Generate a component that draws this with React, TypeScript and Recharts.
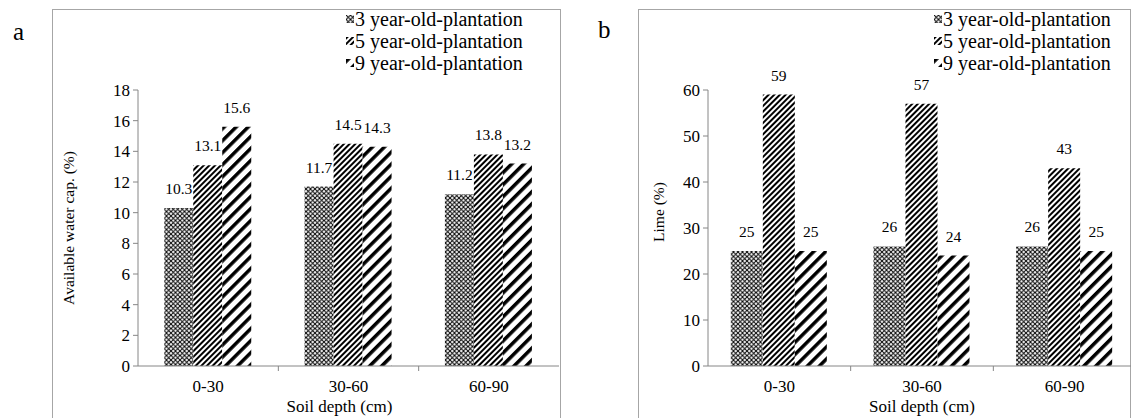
import { BarChart, Bar, XAxis, YAxis, LabelList, Legend } from "recharts";

const FONT = '"Liberation Serif", "Times New Roman", serif';
const AXIS = "#868686";
const BORDER = "#a6a6a6";

const depths = ["0-30", "30-60", "60-90"];
const seriesNames = ["3 year-old-plantation", "5 year-old-plantation", "9 year-old-plantation"];
const seriesKeys = ["y3", "y5", "y9"];

const waterCap3 = [10.3, 11.7, 11.2];
const waterCap5 = [13.1, 14.5, 13.8];
const waterCap9 = [15.6, 14.3, 13.2];
const waterTicks = [0, 2, 4, 6, 8, 10, 12, 14, 16, 18];

const lime3 = [25, 26, 26];
const lime5 = [59, 57, 43];
const lime9 = [25, 24, 25];
const limeTicks = [0, 10, 20, 30, 40, 50, 60];

const waterData = depths.map((depth, i) => ({
  depth,
  y3: waterCap3[i],
  y5: waterCap5[i],
  y9: waterCap9[i],
}));

const limeData = depths.map((depth, i) => ({
  depth,
  y3: lime3[i],
  y5: lime5[i],
  y9: lime9[i],
}));

// svg fill patterns that mimic the excel hatch fills
function patternDefs(prefix: string) {
  return (
    <defs>
      <pattern id={`${prefix}-y3`} width={4.5} height={4.5} patternUnits="userSpaceOnUse">
        <rect width={4.5} height={4.5} fill="#fff" />
        <path d="M0,0 L4.5,4.5 M4.5,0 L0,4.5" stroke="#000" strokeWidth={1} />
      </pattern>
      <pattern id={`${prefix}-y5`} width={4} height={4} patternUnits="userSpaceOnUse" patternTransform="rotate(45)">
        <rect width={4} height={4} fill="#fff" />
        <rect width={2} height={4} fill="#000" />
      </pattern>
      <pattern id={`${prefix}-y9`} width={8.5} height={8.5} patternUnits="userSpaceOnUse" patternTransform="rotate(45)">
        <rect width={8.5} height={8.5} fill="#fff" />
        <rect width={3.5} height={8.5} fill="#000" />
      </pattern>
    </defs>
  );
}

function legendContent(prefix: string) {
  return () => (
    <div style={{ fontFamily: FONT, fontSize: 20, lineHeight: "22px", color: "#000" }}>
      {seriesNames.map((name, i) => (
        <div key={name} style={{ display: "flex", alignItems: "center", whiteSpace: "nowrap" }}>
          <svg width={8} height={8} style={{ marginRight: 1 }}>
            <rect width={8} height={8} fill={`url(#${prefix}-${seriesKeys[i]})`} />
          </svg>
          <span>{name}</span>
        </div>
      ))}
    </div>
  );
}

function depthTick(band: number) {
  return (props: any) => {
    const { x, y, payload, index } = props;
    return (
      <g>
        {index > 0 && <line x1={x - band / 2} x2={x - band / 2} y1={y} y2={y + 5} stroke={AXIS} />}
        <text x={x} y={y + 26} textAnchor="middle" fill="#000" fontSize={17} fontFamily={FONT}>
          {payload.value}
        </text>
      </g>
    );
  };
}

interface PanelProps {
  prefix: string;
  data: typeof waterData;
  ticks: number[];
  width: number;
  margin: { top: number; right: number; bottom: number; left: number };
  barGap: string;
  legendLeft: number;
  titleShift: number;
}

function Panel({ prefix, data, ticks, width, margin, barGap, legendLeft, titleShift }: PanelProps) {
  const band = (width - margin.left - margin.right - 60) / depths.length;
  return (
    <BarChart
      width={width}
      height={418}
      data={data}
      margin={margin}
      barGap={0}
      barCategoryGap={barGap}
    >
      {patternDefs(prefix)}
      <XAxis
        dataKey="depth"
        interval={0}
        axisLine={{ stroke: AXIS }}
        tickLine={false}
        tickSize={0}
        tickMargin={0}
        height={50}
        tick={depthTick(band)}
        label={{ value: "Soil depth (cm)", position: "insideBottom", offset: 4, dx: titleShift, fill: "#000", fontSize: 17, fontFamily: FONT }}
      />
      <YAxis
        domain={[0, ticks[ticks.length - 1]]}
        ticks={ticks}
        interval={0}
        width={60}
        tickSize={5}
        tickMargin={3}
        axisLine={{ stroke: AXIS }}
        tickLine={{ stroke: AXIS }}
        tick={{ fill: "#000", fontSize: 17, fontFamily: FONT }}
      />
      <Legend
        layout="vertical"
        align="center"
        verticalAlign="middle"
        wrapperStyle={{ top: 8, left: legendLeft, width: 220 }}
        content={legendContent(prefix)}
      />
      {seriesKeys.map((key, i) => (
        <Bar key={key} dataKey={key} name={seriesNames[i]} fill={`url(#${prefix}-${key})`} isAnimationActive={false}>
          <LabelList dataKey={key} position="top" offset={14} fill="#000" fontSize={15.5} fontFamily={FONT} />
        </Bar>
      ))}
    </BarChart>
  );
}

export default function App() {
  return (
    <div style={{ position: "absolute", left: 0, top: 0, width: 1131, height: 418, overflow: "hidden", background: "#fff", fontFamily: FONT }}>
      <div style={{ position: "absolute", left: 52, top: 9, width: 507, height: 430, border: `1px solid ${BORDER}` }} />
      <div style={{ position: "absolute", left: 638, top: 9, width: 491, height: 430, border: `1px solid ${BORDER}` }} />
      <div style={{ position: "absolute", left: 0, top: 0 }}>
        <Panel
          prefix="a"
          data={waterData}
          ticks={waterTicks}
          width={570}
          margin={{ top: 90, right: 11, bottom: 2, left: 78 }}
          barGap="18.7%"
          legendLeft={346}
          titleShift={-9}
        />
      </div>
      <div style={{ position: "absolute", left: 630, top: 0 }}>
        <Panel
          prefix="b"
          data={limeData}
          ticks={limeTicks}
          width={510}
          margin={{ top: 90, right: 4, bottom: 2, left: 18 }}
          barGap="16%"
          legendLeft={304}
          titleShift={0}
        />
      </div>
      <svg width={1131} height={418} style={{ position: "absolute", left: 0, top: 0, pointerEvents: "none" }}>
        <text x={13} y={40} fontSize={25} fontFamily={FONT} fill="#000">a</text>
        <text x={598} y={38} fontSize={25} fontFamily={FONT} fill="#000">b</text>
        <text x={74} y={228} fontSize={15.5} fontFamily={FONT} fill="#000" textAnchor="middle" transform="rotate(-90 74 228)">
          Available water cap. (%)
        </text>
        <text x={664} y={212} fontSize={15.5} fontFamily={FONT} fill="#000" textAnchor="middle" transform="rotate(-90 664 212)">
          Lime (%)
        </text>
      </svg>
    </div>
  );
}
